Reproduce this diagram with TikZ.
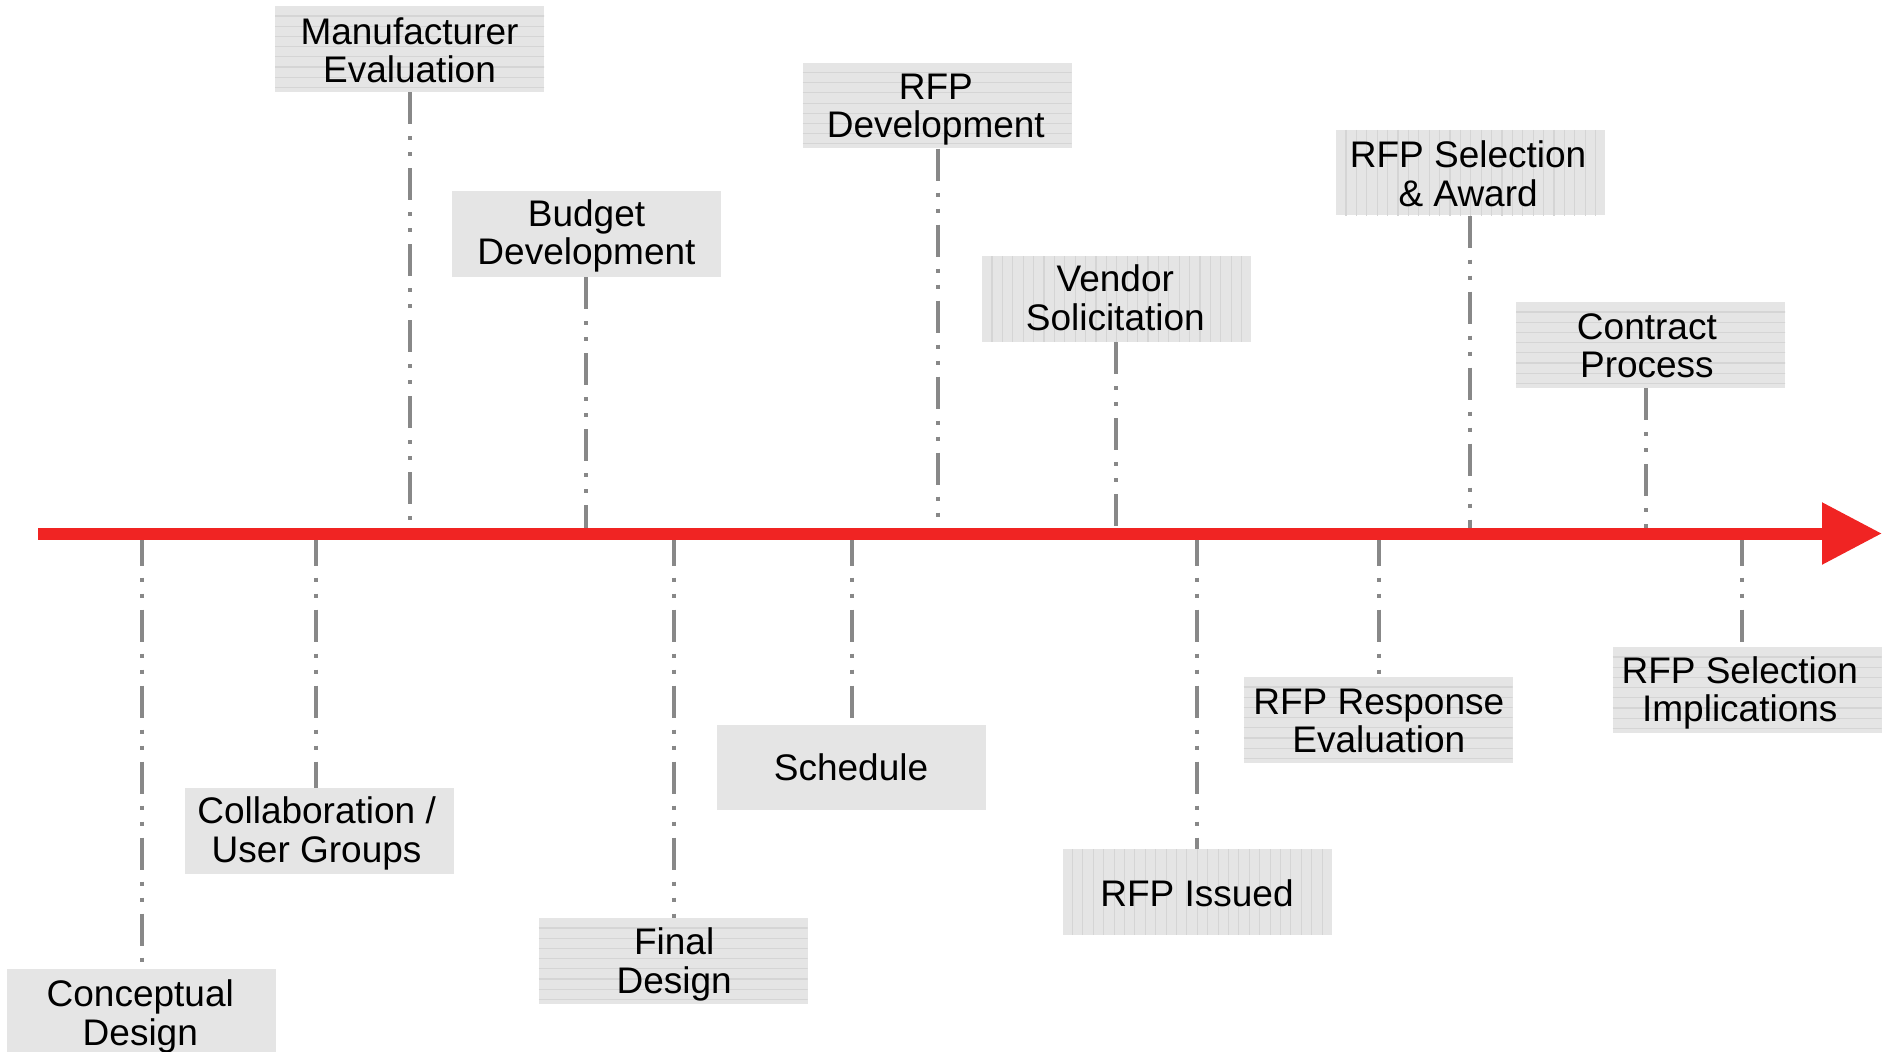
\documentclass[tikz,border=0pt]{standalone}
\usepackage{fontspec}
\setmainfont{Liberation Sans}
\usetikzlibrary{arrows.meta}

\definecolor{axisred}{RGB}{240,36,35}
\definecolor{boxfill}{RGB}{229,229,229}
\definecolor{stripecol}{RGB}{213,213,213}
\definecolor{conncol}{RGB}{136,136,136}

\tikzset{
  stripe/.style={draw=stripecol, line width=0.55pt},
  phase/.style={fill=boxfill, minimum width=134.5pt, minimum height=42.75pt,
    inner sep=0pt},
  phasetext/.style={inner sep=0pt, align=center, text=black,
    font=\fontsize{18.5pt}{19.2pt}\selectfont},
  hstripes/.style={path picture={
    \coordinate (pp) at (path picture bounding box.north west);
    \foreach \k in {0,...,7}{\draw[stripe] ([yshift={-4.85pt-5.1pt*\k}]pp) -- ++(280,0);}
  }},
  vstripes/.style={path picture={
    \coordinate (pp) at (path picture bounding box.north west);
    \foreach \k in {0,...,24}{\draw[stripe] ([xshift={5pt+5.2pt*\k}]pp) -- ++(0,100);}
  }},
  conn/.style={draw=conncol, line width=2pt,
    dash pattern=on 16pt off 6pt on 2pt off 6pt on 2pt off 6pt},
  timeline/.style={draw=axisred, line width=6pt,
    -{Triangle[length=30pt,width=29.5pt]}}
}

% connector from a box above the axis down to it, and from the axis down to a box below
\newcommand\connabove[2]{\draw[conn] ([xshift=#2]#1.south) -- ([xshift=#2]#1.south |- axstart);}
\newcommand\connbelow[2]{\draw[conn] ([xshift=#2]#1.north |- axstart) -- ([xshift=#2]#1.north);}
% caption of a box, nudged by (#2,#3)
\newcommand\phasecaption[4]{\node[phasetext] (#1-t) at ([xshift=#2,yshift=#3]#1.center) {#4};}

\begin{document}
\begin{tikzpicture}[x=0.5pt, y=-0.5pt]
  \useasboundingbox (0,0) rectangle (1887,1051);

  \coordinate (axstart) at (38,533.5);
  \coordinate (axend) at (1882,533.5);

  % phases above the timeline
  \node[phase, hstripes] (me)  at (409.5,49)     {};
  \node[phase]           (bd)  at (586.5,234)    {};
  \node[phase, hstripes] (rd)  at (937,105.5)    {};
  \node[phase, vstripes] (vs)  at (1116.5,299)   {};
  \node[phase, vstripes] (rsa) at (1470.5,172.5) {};
  \node[phase, hstripes] (cp)  at (1650.5,345)   {};

  % phases below the timeline
  \node[phase]           (cd)  at (141.5,1011.5) {};
  \node[phase]           (cug) at (319,831)      {};
  \node[phase, hstripes] (fd)  at (673,961)      {};
  \node[phase]           (sch) at (851,767.5)    {};
  \node[phase, vstripes] (ri)  at (1197,892)     {};
  \node[phase, hstripes] (rre) at (1378,720)     {};
  \node[phase, hstripes] (rsi) at (1747,690)     {};

  % captions
  \phasecaption{me}{0pt}{-0.6pt}{Manufacturer\\Evaluation}
  \phasecaption{bd}{0pt}{-0.9pt}{Budget\\Development}
  \phasecaption{rd}{-0.6pt}{-2.1pt}{RFP\\Development}
  \phasecaption{vs}{-0.6pt}{0.6pt}{Vendor\\Solicitation}
  \phasecaption{rsa}{-1.2pt}{-0.6pt}{RFP Selection\\\& Award}
  \phasecaption{cp}{-1.8pt}{-0.3pt}{Contract\\Process}
  \phasecaption{cd}{-0.6pt}{-2.4pt}{Conceptual\\Design}
  \phasecaption{cug}{-1.2pt}{-1.2pt}{Collaboration /\\User Groups}
  \phasecaption{fd}{0.6pt}{-1.8pt}{Final\\Design}
  \phasecaption{sch}{0pt}{0pt}{Schedule}
  \phasecaption{ri}{0pt}{-0.6pt}{RFP Issued}
  \phasecaption{rre}{0.4pt}{-0.6pt}{RFP Response\\Evaluation}
  \phasecaption{rsi}{-3.6pt}{-1.5pt}{RFP Selection\\Implications}

  % dash-dot-dot connectors
  \connabove{me}{0.25pt}
  \connabove{bd}{-0.25pt}
  \connabove{rd}{0.25pt}
  \connabove{vs}{-0.5pt}
  \connabove{rsa}{-0.5pt}
  \connabove{cp}{-2.25pt}
  \connbelow{cd}{0.25pt}
  \connbelow{cug}{-1.5pt}
  \connbelow{fd}{0.5pt}
  \connbelow{sch}{0.5pt}
  \connbelow{ri}{0pt}
  \connbelow{rre}{0.5pt}
  \connbelow{rsi}{-2.5pt}

  % the timeline arrow
  \draw[timeline] (axstart) -- (axend);
\end{tikzpicture}
\end{document}
